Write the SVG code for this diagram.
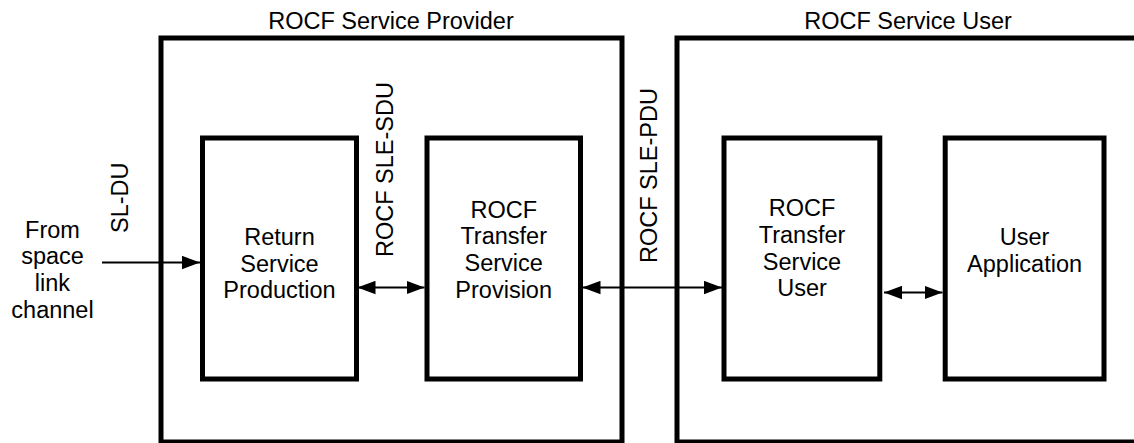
<svg xmlns="http://www.w3.org/2000/svg" width="1134" height="443" viewBox="0 0 1134 443">
<style>
.box{fill:none;stroke:#000;stroke-width:5}
.t{font-family:"Liberation Sans",Arial,sans-serif;font-size:23.5px;fill:#000}
.c{text-anchor:middle}
.ln{stroke:#000;stroke-width:2;fill:none}
</style>
<defs>
<marker id="ah" markerUnits="userSpaceOnUse" markerWidth="18" markerHeight="14" refX="18" refY="7" orient="auto-start-reverse" viewBox="0 0 18 14">
<path d="M0,0.3 L18,7 L0,13.7 z" fill="#000"/>
</marker>
</defs>
<rect width="1134" height="443" fill="#fff"/>
<g id="provider">
<rect class="box" x="161" y="38" width="461" height="404"/>
<text class="t c" x="391" y="29">ROCF Service Provider</text>
</g>
<g id="user">
<rect class="box" x="677" y="38" width="470" height="404"/>
<text class="t c" x="908" y="29">ROCF Service User</text>
</g>
<g id="rsp">
<rect class="box" x="202.5" y="138" width="154" height="241"/>
<text class="t c" x="279.5" y="245">Return</text>
<text class="t c" x="279.5" y="271.7">Service</text>
<text class="t c" x="279.5" y="298.4">Production</text>
</g>
<g id="rtsp">
<rect class="box" x="427" y="138" width="153.5" height="241"/>
<text class="t c" x="503.7" y="217.5">ROCF</text>
<text class="t c" x="503.7" y="244.3">Transfer</text>
<text class="t c" x="503.7" y="271.1">Service</text>
<text class="t c" x="503.7" y="298">Provision</text>
</g>
<g id="rtsu">
<rect class="box" x="724" y="138" width="155.8" height="241"/>
<text class="t c" x="802" y="216">ROCF</text>
<text class="t c" x="802" y="242.8">Transfer</text>
<text class="t c" x="802" y="269.6">Service</text>
<text class="t c" x="802" y="296.4">User</text>
</g>
<g id="app">
<rect class="box" x="945.2" y="138" width="158.8" height="241"/>
<text class="t c" x="1024.6" y="245">User</text>
<text class="t c" x="1024.6" y="271.7">Application</text>
</g>
<g id="source">
<text class="t c" x="52.5" y="237.6">From</text>
<text class="t c" x="52.5" y="264.4">space</text>
<text class="t c" x="52.5" y="291.1">link</text>
<text class="t c" x="52.5" y="317.9">channel</text>
</g>
<g id="connectors">
<line class="ln" x1="102" y1="262.5" x2="200" y2="262.5" marker-end="url(#ah)"/>
<line class="ln" x1="357.5" y1="287.5" x2="424.5" y2="287.5" marker-start="url(#ah)" marker-end="url(#ah)"/>
<line class="ln" x1="582.5" y1="287.5" x2="722" y2="287.5" marker-start="url(#ah)" marker-end="url(#ah)"/>
<line class="ln" x1="884" y1="292.5" x2="942.5" y2="292.5" marker-start="url(#ah)" marker-end="url(#ah)"/>
<text class="t" transform="translate(128,233) rotate(-90)">SL-DU</text>
<text class="t" transform="translate(393,257) rotate(-90)">ROCF SLE-SDU</text>
<text class="t" transform="translate(657,263) rotate(-90)">ROCF SLE-PDU</text>
</g>
</svg>
